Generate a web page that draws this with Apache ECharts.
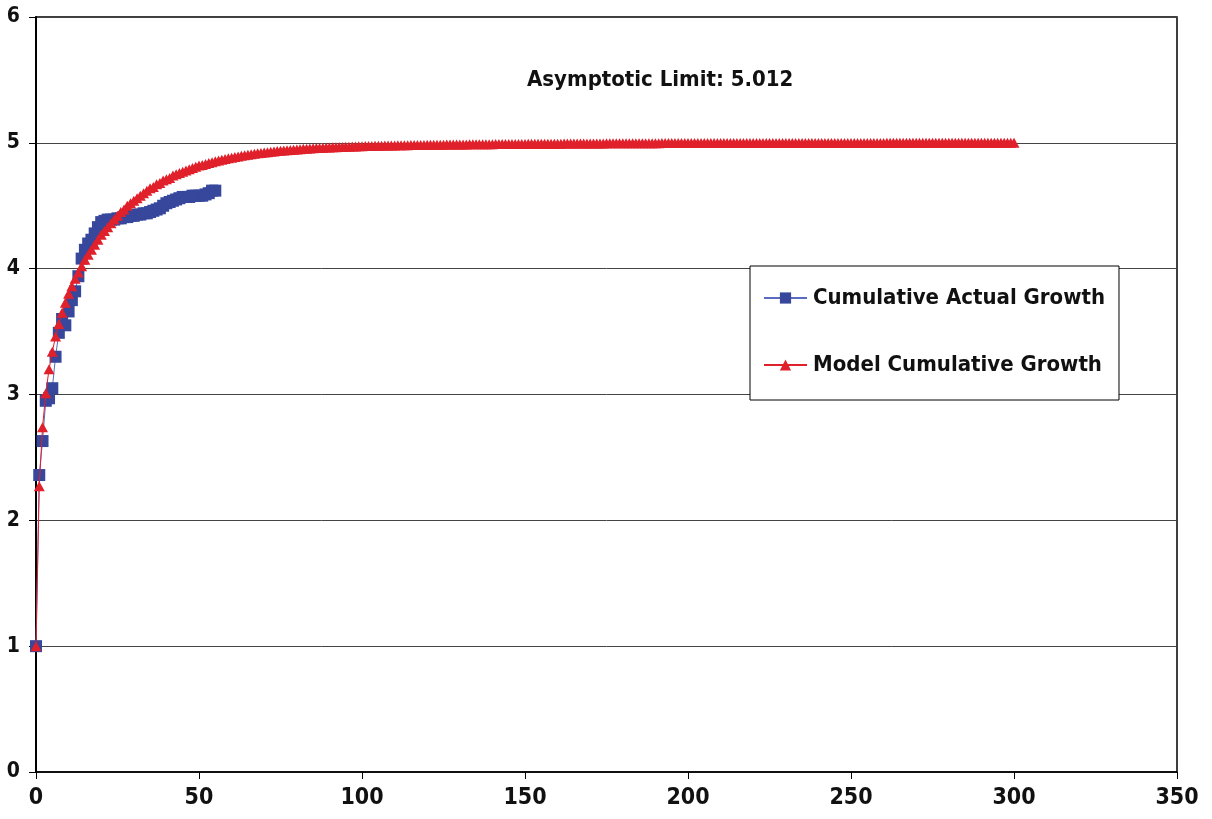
<!DOCTYPE html>
<html>
<head>
<meta charset="utf-8">
<script src="https://cdn.jsdelivr.net/npm/echarts@6/dist/echarts.min.js"></script>
<style>
html,body{margin:0;padding:0;background:#fff;}
#chart{width:1212px;height:819px;}
</style>
</head>
<body>
<div id="chart"></div>
<script>
// Cumulative actual growth, one value per period starting at period 0
const actualGrowth = [
  1.00,2.36,2.63,2.95,2.97,3.05,3.30,3.49,3.60,3.55,
  3.66,3.75,3.82,3.94,4.08,4.15,4.20,4.23,4.28,4.33,
  4.37,4.38,4.39,4.39,4.39,4.40,4.40,4.41,4.41,4.42,
  4.42,4.43,4.43,4.44,4.44,4.45,4.46,4.47,4.48,4.50,
  4.52,4.53,4.54,4.55,4.56,4.57,4.57,4.57,4.58,4.58,
  4.58,4.58,4.59,4.60,4.62,4.62
];
// Model cumulative growth, one value per period starting at period 0
const modelGrowth = [
  1.00,2.27,2.74,3.01,3.20,3.34,3.46,3.56,3.65,3.73,
  3.80,3.86,3.92,3.97,4.02,4.07,4.11,4.15,4.19,4.23,
  4.27,4.30,4.33,4.36,4.39,4.42,4.45,4.47,4.50,4.52,
  4.54,4.56,4.58,4.60,4.62,4.64,4.65,4.67,4.68,4.70,
  4.71,4.72,4.74,4.75,4.76,4.77,4.78,4.79,4.80,4.81,
  4.82,4.824,4.832,4.839,4.846,4.853,4.859,4.865,4.871,4.877,
  4.882,4.887,4.892,4.897,4.901,4.905,4.909,4.913,4.917,4.920,
  4.923,4.926,4.929,4.932,4.935,4.937,4.940,4.942,4.944,4.946,
  4.948,4.950,4.952,4.953,4.955,4.956,4.958,4.959,4.960,4.962,
  4.963,4.964,4.965,4.966,4.967,4.968,4.969,4.970,4.971,4.972,
  4.973,
  4.974,4.975,4.975,4.976,4.977,4.977,4.978,4.978,4.979,4.979,
  4.980,4.980,4.981,4.981,4.982,4.982,4.982,4.983,4.983,4.984,
  4.984,4.984,4.985,4.985,4.985,4.986,4.986,4.986,4.987,4.987,
  4.987,4.987,4.988,4.988,4.988,4.988,4.989,4.989,4.989,4.989,
  4.990,4.990,4.990,4.990,4.990,4.991,4.991,4.991,4.991,4.991,
  4.992,4.992,4.992,4.992,4.992,4.993,4.993,4.993,4.993,4.993,
  4.993,4.994,4.994,4.994,4.994,4.994,4.994,4.995,4.995,4.995,
  4.995,4.995,4.995,4.995,4.996,4.996,4.996,4.996,4.996,4.996,
  4.996,4.996,4.997,4.997,4.997,4.997,4.997,4.997,4.997,4.997,
  4.997,4.998,4.998,4.998,4.998,4.998,4.998,4.998,4.998,4.998,
  4.998,4.998,4.998,4.998,4.998,4.998,4.998,4.998,4.998,4.998,
  4.998,4.998,4.998,4.998,4.998,4.999,4.999,4.999,4.999,4.999,
  4.999,4.999,4.999,4.999,4.999,4.999,4.999,4.999,4.999,4.999,
  4.999,4.999,4.999,4.999,4.999,4.999,4.999,4.999,4.999,4.999,
  4.999,4.999,4.999,4.999,4.999,4.999,4.999,4.999,4.999,4.999,
  4.999,4.999,4.999,4.999,4.999,4.999,4.999,4.999,4.999,4.999,
  5.000,5.000,5.000,5.000,5.000,5.000,5.000,5.000,5.000,5.000,
  5.000,5.000,5.000,5.000,5.000,5.000,5.000,5.000,5.000,5.000,
  5.000,5.000,5.000,5.000,5.000,5.000,5.000,5.000,5.000,5.000,
  5.000,5.000,5.000,5.000,5.000,5.000,5.000,5.000,5.000,5.000
];
const seriesNames = ['Cumulative Actual Growth', 'Model Cumulative Growth'];
const annotationText = 'Asymptotic Limit: 5.012';

// pick a condensed bold face if one is installed, else fall back
function fontAvailable(name) {
  const c = document.createElement('canvas').getContext('2d');
  const s = 'Cumulative Actual Growth 0123';
  c.font = 'bold 40px monospace';
  const a = c.measureText(s).width;
  c.font = 'bold 40px "' + name + '", monospace';
  const b = c.measureText(s).width;
  return Math.abs(a - b) > 0.5;
}
const condensed = ['Liberation Sans Narrow', 'DejaVu Sans Condensed', 'Roboto Condensed', 'Noto Sans Condensed'].find(fontAvailable);
const FONT = condensed ? '"' + condensed + '", "Liberation Sans", sans-serif' : '"Liberation Sans", Arial, sans-serif';

const chart = echarts.init(document.getElementById('chart'), null, {renderer: 'canvas'});

const actualData = actualGrowth.map((v, i) => [i, v]);
const modelData = modelGrowth.map((v, i) => [i, v]);

chart.setOption({
  animation: false,
  backgroundColor: '#fff',
  title: {
    text: annotationText,
    left: 527, top: 69, padding: 0,
    textStyle: {fontFamily: FONT, fontWeight: 'bold', fontSize: 22, color: '#111'}
  },
  legend: {
    orient: 'vertical',
    left: 750, top: 266,
    padding: [19, 14, 22, 13],
    itemGap: 41,
    itemWidth: 43, itemHeight: 14,
    borderColor: '#000', borderWidth: 1,
    backgroundColor: '#fff',
    textStyle: {fontFamily: FONT, fontWeight: 'bold', fontSize: 22, lineHeight: 26, color: '#111', padding: [0,0,0,1]},
    data: seriesNames
  },
  grid: {left: 36, right: 35, top: 17, bottom: 47, show: true, borderColor: '#000', borderWidth: 1.5},
  xAxis: {
    type: 'value', min: 0, max: 350, interval: 50,
    axisLine: {show: true, onZero: false, lineStyle: {color: '#000', width: 1.5}},
    axisTick: {show: true, length: 7, lineStyle: {color: '#000', width: 1}},
    axisLabel: {fontFamily: FONT, fontWeight: 'bold', fontSize: 23, color: '#111', margin: 15},
    splitLine: {show: false}
  },
  yAxis: {
    type: 'value', min: 0, max: 6, interval: 1,
    axisLine: {show: true, onZero: false, lineStyle: {color: '#000', width: 2}},
    axisTick: {show: true, length: 7, lineStyle: {color: '#000', width: 1}},
    axisLabel: {fontFamily: FONT, fontWeight: 'bold', fontSize: 21, color: '#111', margin: 16},
    splitLine: {show: true, lineStyle: {color: '#444', width: 1}}
  },
  series: [
    {
      name: seriesNames[0], type: 'line', data: actualData,
      symbol: 'rect', symbolSize: 12,
      lineStyle: {color: '#5a6bc0', width: 1},
      itemStyle: {color: '#36479c'},
      z: 2
    },
    {
      name: seriesNames[1], type: 'line', data: modelData,
      symbol: 'triangle', symbolSize: [11, 10],
      lineStyle: {color: '#e0202a', width: 1},
      itemStyle: {color: '#e0202a'},
      z: 3
    }
  ]
});
</script>
</body>
</html>
